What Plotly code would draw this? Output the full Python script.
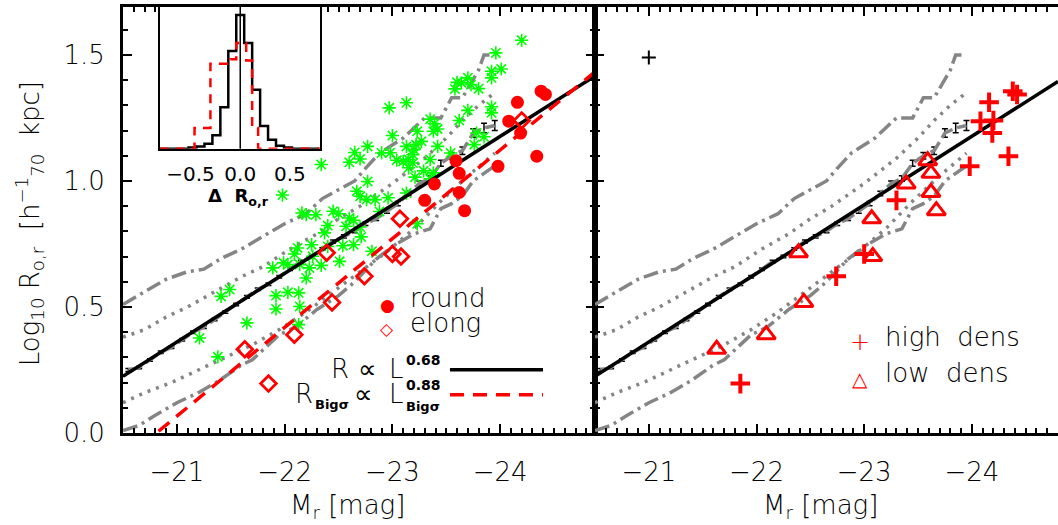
import numpy as np
import plotly.graph_objects as go

# ---------------------------------------------------------------- data
# size-luminosity relations (exponents as quoted in the legend)
ALPHA_ALL = 0.68          # R ∝ L^0.68
ALPHA_BIG = 0.88          # R_Bigσ ∝ L_Bigσ^0.88
LOGR_ALL_AT_M205 = 0.225  # log R of the full-sample fit at M_r = -20.5
MAG_BIG_AT_LOGR0 = -20.81 # M_r where the Bigσ fit crosses log R = 0

# full sample: running median with errors
med_mag = [-20.55, -20.65, -20.75, -20.85, -20.95, -21.05, -21.15, -21.25, -21.35,
           -21.45, -21.55, -21.65, -21.75, -21.85, -21.95, -22.05, -22.15, -22.25,
           -22.35, -22.45, -22.55, -22.65, -22.75, -22.85, -22.95, -23.05, -23.15,
           -23.25, -23.35, -23.45, -23.55, -23.65, -23.75, -23.85, -23.95]
med_logr = [0.25, 0.26, 0.29, 0.32, 0.34, 0.37, 0.40, 0.42, 0.45,
            0.48, 0.51, 0.54, 0.57, 0.59, 0.62, 0.65, 0.68, 0.70,
            0.73, 0.76, 0.78, 0.80, 0.83, 0.85, 0.88, 0.91, 0.95,
            0.99, 1.01, 1.07, 1.10, 1.12, 1.19, 1.21, 1.22]
med_err = [0.006, 0.005, 0.005, 0.005, 0.005, 0.005, 0.005, 0.005, 0.005,
           0.005, 0.005, 0.005, 0.005, 0.005, 0.005, 0.005, 0.005, 0.005,
           0.005, 0.006, 0.006, 0.006, 0.007, 0.007, 0.008, 0.008, 0.009,
           0.010, 0.011, 0.012, 0.013, 0.015, 0.017, 0.019, 0.020]

# scatter envelopes of the full sample
hi2_mag = [-20.5, -20.7, -20.9, -21.1, -21.25, -21.4, -21.6, -21.8, -22.0, -22.2,
           -22.35, -22.5, -22.65, -22.75, -22.88, -23.1, -23.3, -23.45, -23.55,
           -23.65, -23.8, -23.85, -23.95]
hi2_logr = [0.51, 0.56, 0.61, 0.64, 0.65, 0.69, 0.73, 0.78, 0.83, 0.87,
            0.93, 0.965, 1.0, 1.05, 1.11, 1.17, 1.25, 1.25, 1.33,
            1.33, 1.44, 1.50, 1.50]
hi1_mag = [-20.5, -20.7, -20.9, -21.1, -21.35, -21.6, -21.8, -22.05, -22.3, -22.5,
           -22.7, -23.0, -23.3, -23.5, -23.65, -23.8, -23.95]
hi1_logr = [0.38, 0.41, 0.46, 0.50, 0.56, 0.62, 0.66, 0.73, 0.79, 0.85,
            0.90, 0.99, 1.09, 1.17, 1.24, 1.30, 1.35]
lo1_mag = [-20.5, -20.7, -20.95, -21.2, -21.45, -21.7, -21.95, -22.2, -22.45, -22.7,
           -22.95, -23.2, -23.45, -23.7, -23.95]
lo1_logr = [0.12, 0.16, 0.20, 0.25, 0.30, 0.35, 0.41, 0.48, 0.56, 0.64,
            0.72, 0.81, 0.92, 1.02, 1.11]
lo2_mag = [-20.5, -20.65, -20.8, -21.0, -21.2, -21.4, -21.6, -21.7, -21.8, -21.95,
           -22.1, -22.3, -22.5, -22.65, -22.85, -23.0, -23.2, -23.35, -23.45,
           -23.55, -23.65, -23.75, -23.85, -23.95]
lo2_logr = [0.01, 0.03, 0.07, 0.12, 0.16, 0.21, 0.27, 0.29, 0.33, 0.39,
            0.42, 0.49, 0.545, 0.60, 0.69, 0.74, 0.79, 0.81, 0.89,
            0.91, 0.94, 1.00, 1.03, 1.06]

# comparison galaxies (green asterisks)
green_mag = [-21.21, -21.38, -21.41, -21.49, -21.65, -21.89, -21.92, -21.92, -21.98, -21.99,
             -22.03, -22.03, -22.09, -22.12, -22.14, -22.13, -22.14, -22.13, -22.20, -22.20,
             -22.23, -22.25, -22.26, -22.29, -22.34, -22.34, -22.37, -22.40, -22.40, -22.50,
             -22.51, -22.54, -22.57, -22.60, -22.60, -22.64, -22.64, -22.65, -22.67, -22.70,
             -22.70, -22.70, -22.71, -22.76, -22.77, -22.77, -22.81, -22.84, -22.88, -22.90,
             -22.96, -22.97, -22.98, -23.00, -23.04, -23.10, -23.13, -23.13, -23.15, -23.15,
             -23.19, -23.19, -23.13, -23.20, -23.22, -23.23, -23.21, -23.23, -23.27, -23.29,
             -23.35, -23.39, -23.42, -23.38, -23.35, -23.38, -23.35, -23.42, -23.54, -23.58,
             -23.60, -23.64, -23.70, -23.73, -23.80, -23.62, -23.70, -23.76, -23.78, -23.85,
             -23.92, -23.92, -23.92, -23.92, -23.96, -24.01, -24.20, -22.16, -22.45]
green_logr = [0.377, 0.302, 0.542, 0.569, 0.437, 0.655, 0.545, 0.492, 0.944, 0.675,
              0.668, 0.558, 0.71, 0.734, 0.668, 0.556, 0.502, 0.430, 0.866, 0.615,
              0.655, 0.747, 0.701, 0.866, 1.065, 0.665, 0.794, 0.823, 0.740, 0.870,
              0.681, 0.743, 0.820, 0.853, 1.074, 0.844, 0.747, 1.113, 0.959, 1.087,
              0.939, 0.817, 0.778, 0.926, 0.998, 1.137, 0.721, 0.926, 0.879, 1.111,
              0.933, 1.290, 1.112, 1.180, 1.082, 1.078, 1.310, 0.952, 1.085, 1.052,
              1.071, 1.104, 1.137, 1.124, 1.144, 1.197, 1.015, 0.830, 1.157, 1.040,
              1.245, 1.227, 1.206, 1.197, 1.085, 1.032, 1.008, 1.137, 1.111, 1.365,
              1.391, 1.389, 1.409, 1.382, 1.366, 1.240, 1.280, 1.144, 1.190, 1.175,
              1.294, 1.270, 1.435, 1.409, 1.508, 1.444, 1.558, 0.873, 0.88]

# brightest-group galaxies: magnitude, size, shape, environment
big_mag = [-24.38, -24.42, -24.16, -24.08, -24.20, -24.19, -24.34, -23.98, -23.30, -23.00,
           -22.74, -21.85, -23.59, -23.62, -23.62, -23.67, -23.39, -23.07, -23.08, -22.39,
           -22.44, -22.09, -21.63]
big_logr = [1.356, 1.343, 1.312, 1.237, 1.240, 1.190, 1.098, 1.058, 0.923, 0.710,
            0.622, 0.196, 1.080, 1.030, 0.954, 0.882, 0.988, 0.850, 0.700, 0.715,
            0.518, 0.390, 0.332]
big_shape = ["round", "round", "round", "round", "elong", "round", "round", "round", "round", "elong",
             "elong", "elong", "round", "round", "round", "round", "round", "elong", "elong", "elong",
             "elong", "elong", "elong"]
big_env = ["high"] * 12 + ["low"] * 11

# typical error bar shown in the right panel
typ_err_mag = [-21.0]
typ_err_logr = [1.49]

# residual histograms (inset)
hist_all_edges = [-0.81, -0.52, -0.44, -0.36, -0.28, -0.20, -0.12, -0.04, 0.04, 0.12,
                  0.20, 0.28, 0.36, 0.44, 0.52, 0.80]
hist_all = [0.0, 0.008, 0.017, 0.037, 0.10, 0.31, 0.73, 1.00, 0.79, 0.44,
            0.17, 0.067, 0.022, 0.008, 0.0]
hist_big_edges = [-0.81, -0.46, -0.30, -0.10, -0.04, 0.06, 0.12, 0.18, 0.80]
hist_big = [0.0, 0.155, 0.635, 0.67, 0.79, 0.66, 0.155, 0.0]

# ---------------------------------------------------------------- style
FONT = "DejaVu Sans"
RED = "#ff0000"
GREY = "#858585"
GREEN = "#00ff00"
XR_LEFT = [-20.5, -24.88]
XR_RIGHT = [-20.5, -24.80]
YR = [0.0, 1.69]

fig = go.Figure()


def fit_line(mag_range, zp, alpha, mag0):
    m = np.array(mag_range)
    return m, zp + 0.4 * alpha * (mag0 - m)


def add_envelopes(xa, ya):
    for mags, logr, dash in [(hi2_mag, hi2_logr, "15px,5px,3px,5px"),
                             (lo2_mag, lo2_logr, "15px,5px,3px,5px"),
                             (hi1_mag, hi1_logr, "3px,6px"),
                             (lo1_mag, lo1_logr, "3px,6px")]:
        fig.add_trace(go.Scatter(x=mags, y=logr, mode="lines", xaxis=xa, yaxis=ya,
                                 line=dict(color=GREY, width=3.5, dash=dash),
                                 hoverinfo="skip"))
    fig.add_trace(go.Scatter(x=med_mag, y=med_logr, mode="lines", xaxis=xa, yaxis=ya,
                             line=dict(color=GREY, width=3.5, dash="14px,5px"),
                             error_y=dict(type="data", array=med_err, color="black",
                                          thickness=1.5, width=3),
                             hoverinfo="skip"))


# ---- left panel
add_envelopes("x", "y")
fig.add_trace(go.Scatter(x=green_mag, y=green_logr, mode="markers", xaxis="x", yaxis="y",
                         marker=dict(symbol="asterisk-open", size=11, color=GREEN,
                                     line=dict(color=GREEN, width=1.6))))
m, r = fit_line(XR_LEFT, LOGR_ALL_AT_M205, ALPHA_ALL, -20.5)
fig.add_trace(go.Scatter(x=m, y=r, mode="lines", xaxis="x", yaxis="y",
                         line=dict(color="black", width=3.5)))
m, r = fit_line(XR_LEFT, 0.0, ALPHA_BIG, MAG_BIG_AT_LOGR0)
fig.add_trace(go.Scatter(x=m, y=r, mode="lines", xaxis="x", yaxis="y",
                         line=dict(color=RED, width=3.5, dash="14px,9px")))

shape = np.array(big_shape)
env = np.array(big_env)
bm = np.array(big_mag)
br = np.array(big_logr)
fig.add_trace(go.Scatter(x=bm[shape == "round"], y=br[shape == "round"], mode="markers",
                         xaxis="x", yaxis="y",
                         marker=dict(symbol="circle", size=13, color=RED, line=dict(width=0))))
fig.add_trace(go.Scatter(x=bm[shape == "elong"], y=br[shape == "elong"], mode="markers",
                         xaxis="x", yaxis="y",
                         marker=dict(symbol="diamond-open", size=12, color=RED,
                                     line=dict(color=RED, width=2.8))))

# ---- right panel
add_envelopes("x2", "y2")
m, r = fit_line(XR_RIGHT, LOGR_ALL_AT_M205, ALPHA_ALL, -20.5)
fig.add_trace(go.Scatter(x=m, y=r, mode="lines", xaxis="x2", yaxis="y2",
                         line=dict(color="black", width=3.5)))
fig.add_trace(go.Scatter(x=bm[env == "high"], y=br[env == "high"], mode="markers",
                         xaxis="x2", yaxis="y2",
                         marker=dict(symbol="cross-thin-open", size=14, color=RED,
                                     line=dict(color=RED, width=4))))
fig.add_trace(go.Scatter(x=bm[env == "low"], y=br[env == "low"], mode="markers",
                         xaxis="x2", yaxis="y2",
                         marker=dict(symbol="triangle-up-open", size=16, color=RED,
                                     line=dict(color=RED, width=3))))
fig.add_trace(go.Scatter(x=typ_err_mag, y=typ_err_logr, mode="markers",
                         xaxis="x2", yaxis="y2",
                         marker=dict(symbol="cross-thin-open", size=10, color="black",
                                     line=dict(color="black", width=2))))


# ---- inset histograms
def step(edges, vals):
    xs = np.repeat(edges, 2)[1:-1]
    ys = np.repeat(vals, 2)
    return xs, ys


xs, ys = step(hist_all_edges, hist_all)
fig.add_trace(go.Scatter(x=xs, y=ys, mode="lines", xaxis="x3", yaxis="y3",
                         line=dict(color="black", width=2.5)))
xs, ys = step(hist_big_edges, hist_big)
fig.add_trace(go.Scatter(x=xs, y=ys, mode="lines", xaxis="x3", yaxis="y3",
                         line=dict(color=RED, width=2.5, dash="9px,7px")))

# ---------------------------------------------------------------- axes
tickfont = dict(family=FONT, size=26, color="black", weight=200)
minor = dict(ticks="inside", ticklen=5, tickwidth=1.5, tickcolor="black", dtick=0.1, tick0=0)
common = dict(showline=True, linewidth=3, linecolor="black", ticks="inside",
              ticklen=9, tickwidth=2, tickcolor="black", showgrid=False, zeroline=False,
              tickfont=tickfont, minor=minor)

fig.update_layout(
    width=1058, height=525,
    margin=dict(l=123, r=0, t=7, b=92),
    paper_bgcolor="white", plot_bgcolor="white",
    showlegend=False,
    font=dict(family=FONT, color="black"),
    xaxis=dict(domain=[0, 0.5048], range=XR_LEFT, anchor="y", tick0=-21, dtick=1,
               mirror="allticks", ticklabelstandoff=14, **common),
    yaxis=dict(domain=[0, 1], range=YR, anchor="x", tick0=0, dtick=0.5, tickformat=".1f",
               mirror="allticks", ticklabelstandoff=10, **common),
    xaxis2=dict(domain=[0.5048, 1], range=XR_RIGHT, anchor="y2", tick0=-21, dtick=1,
                mirror="allticks", ticklabelstandoff=14, **common),
    yaxis2=dict(domain=[0, 1], range=YR, anchor="x2", tick0=0, dtick=0.5,
                showticklabels=False, mirror=False, **common),
    xaxis3=dict(domain=[0.0393, 0.2104], range=[-0.81, 0.80], anchor="y3",
                showline=True, linewidth=2, linecolor="black", mirror=True,
                tickvals=[-0.5, 0.0, 0.5], ticktext=["−0.5", "0.0", "0.5"], ticks="",
                tickfont=dict(family=FONT, size=20, color="black"),
                ticklabelstandoff=6, showgrid=False, zeroline=False),
    yaxis3=dict(domain=[0.6674, 1.0], range=[0, 1.06], anchor="x3",
                showline=True, linewidth=2, linecolor="black", mirror=True,
                showticklabels=False, ticks="", showgrid=False, zeroline=False),
)

# zero line in the inset
fig.add_shape(type="line", xref="x3", yref="y3 domain", x0=0, x1=0, y0=0, y1=1,
              line=dict(color="black", width=1.5))


# ---------------------------------------------------------------- labels
def note(text, x, y, size=26, color="black", xanchor="center", weight=200, **kw):
    fig.add_annotation(text=text, x=x, y=y, xref="paper", yref="paper", showarrow=False,
                       xanchor=xanchor, yanchor="middle",
                       font=dict(family=FONT, size=size, color=color, weight=weight), **kw)


note("M<sub>r</sub> [mag]", 0.2396, -0.172)
note("M<sub>r</sub> [mag]", 0.7455, -0.172)
note("Log<sub>10</sub> R<sub>o,r</sub>  [h<sup>−1</sup><sub>70</sub>  kpc]", -0.1000, 0.4913,
     textangle=-90)
note("<b>Δ  R<sub>o,r</sub></b>", 0.123, 0.5547, size=18, weight=700)

# left legend: shapes
note("●", 0.2834, 0.3012, size=17, color=RED, weight=400)
note("round", 0.3048, 0.3176, xanchor="left")
note("◇", 0.2824, 0.2448, size=17, color=RED, weight=400)
note("elong", 0.3048, 0.2589, xanchor="left")

# left legend: fits
note("R", 0.2321, 0.151, size=26)
note("∝", 0.2610, 0.151, size=26, weight=400)
note("L", 0.2930, 0.151, size=26)
note("<b>0.68</b>", 0.3005, 0.172, size=14, xanchor="left", weight=700)
note("R", 0.1940, 0.0925, size=26)
note("<b>Bigσ</b>", 0.2035, 0.066, size=13, xanchor="left", weight=700)
note("∝", 0.2567, 0.0925, size=26, weight=400)
note("L", 0.2930, 0.0925, size=26)
note("<b>Bigσ</b>", 0.3010, 0.062, size=13, xanchor="left", weight=700)
note("<b>0.88</b>", 0.3005, 0.113, size=14, xanchor="left", weight=700)
fig.add_shape(type="line", xref="paper", yref="paper", x0=0.3497, x1=0.4492,
              y0=0.1486, y1=0.1486, line=dict(color="black", width=3.5))
fig.add_shape(type="line", xref="paper", yref="paper", x0=0.3497, x1=0.4492,
              y0=0.0899, y1=0.0899, line=dict(color=RED, width=3.5, dash="14px,9px"))

# right legend: environment
note("+", 0.788, 0.2143, size=24, color=RED, weight=200)
note("high  dens", 0.8128, 0.2261, xanchor="left")
note("△", 0.788, 0.1275, size=20, color=RED, weight=200)
note("low  dens", 0.8128, 0.1415, xanchor="left")

fig.write_html("out.html")
